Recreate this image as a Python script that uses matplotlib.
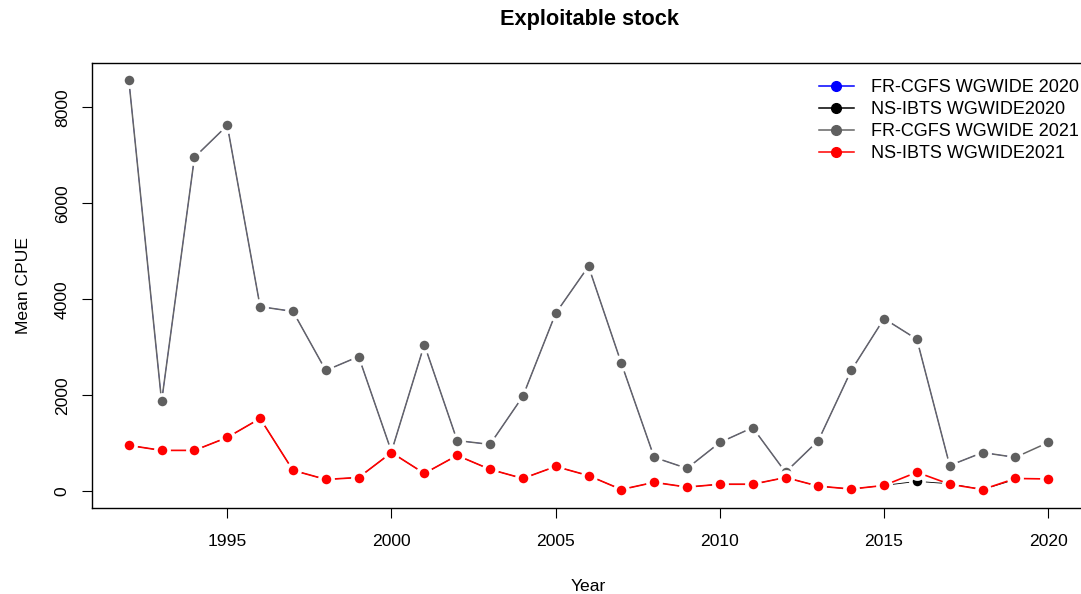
import numpy as np
import matplotlib.pyplot as plt
from matplotlib.lines import Line2D

plt.rcParams['font.family'] = ['Liberation Sans', 'DejaVu Sans']

years = list(range(1992, 2021))

# FR-CGFS WGWIDE 2021 (grey)
fr_2021 = [8580, 1875, 6960, 7625, 3850, 3750, 2520, 2810, 830, 3060,
           1060, 980, 1980, 3710, 4690, 2670, 710, 480, 1020, 1330,
           400, 1060, 2520, 3600, 3170, 540, 810, 710, 1020]

# FR-CGFS WGWIDE 2020 (blue, hidden under the grey series)
fr_2020 = [8580, 1875, 6960, 7625, 3850, 3750, 2520, 2810, 830, 3060,
           1060, 980, 1980, 3710, 4690, 2670, 710, 480, 1020, 1330,
           400, 1060, 2520, 3600, 3170, 540, 810, 710]

# NS-IBTS WGWIDE2021 (red)
ns_2021 = [960, 855, 855, 1125, 1520, 440, 250, 290, 810, 375,
           750, 460, 270, 520, 330, 40, 190, 90, 150, 150,
           290, 110, 50, 125, 400, 150, 40, 270, 260]

# NS-IBTS WGWIDE2020 (black)
ns_2020 = [960, 855, 855, 1125, 1520, 440, 250, 290, 810, 375,
           750, 460, 270, 520, 330, 40, 190, 90, 150, 150,
           290, 110, 50, 125, 210, 160, 40, 250]

series = [
    ("FR-CGFS WGWIDE 2020", fr_2020, "#0000ff", "#0000ff", 0.5),
    ("NS-IBTS WGWIDE2020", ns_2020, "black", "black", 0.6),
    ("FR-CGFS WGWIDE 2021", fr_2021, "#666666", "#5f5f5f", 1.1),
    ("NS-IBTS WGWIDE2021", ns_2021, "#ff0000", "#ff0000", 1.2),
]

fig = plt.figure(figsize=(10.81, 5.94), dpi=100)
ax = fig.add_axes([92 / 1081, 86 / 594, (1085 - 92) / 1081, (508 - 63) / 594])

handles = []
for label, vals, lc, mc, lw in series:
    x = years[:len(vals)]
    ax.plot(x, vals, color=lc, lw=lw, marker='o', markersize=9.5,
            markerfacecolor=mc, markeredgecolor='white', markeredgewidth=2.6,
            zorder=2)
    handles.append(Line2D([], [], color=lc, lw=1.1, marker='o', markersize=7,
                          markerfacecolor=mc, markeredgecolor=mc, label=label))

ax.set_xlim(1990.88, 2021.12)
ax.set_ylim(-345, 8925)
ax.set_xticks([1995, 2000, 2005, 2010, 2015, 2020])
ax.set_yticks([0, 2000, 4000, 6000, 8000])
ax.tick_params(axis='x', direction='out', length=7, labelsize=12.6, pad=12)
ax.tick_params(axis='y', direction='out', length=7, labelsize=12.6, pad=9)
for t in ax.get_yticklabels():
    t.set_rotation(90)
    t.set_va('center')
for s in ax.spines.values():
    s.set_linewidth(1.0)

ax.set_xlabel("Year", fontsize=12.6, labelpad=21)
ax.set_ylabel("Mean CPUE", fontsize=12.6, labelpad=17)
fig.text(590 / 1081, 1 - 20 / 594, "Exploitable stock", ha='center', va='center',
         fontsize=15.7, fontweight='bold')

ax.legend(handles=handles, loc='upper right',
          bbox_to_anchor=(1079 / 1081, 1 - 79 / 594),
          bbox_transform=fig.transFigure, frameon=False, fontsize=13,
          handlelength=1.95, labelspacing=0.28, borderaxespad=0, borderpad=0,
          handletextpad=0.95)

fig.savefig("out.png", dpi=100)
